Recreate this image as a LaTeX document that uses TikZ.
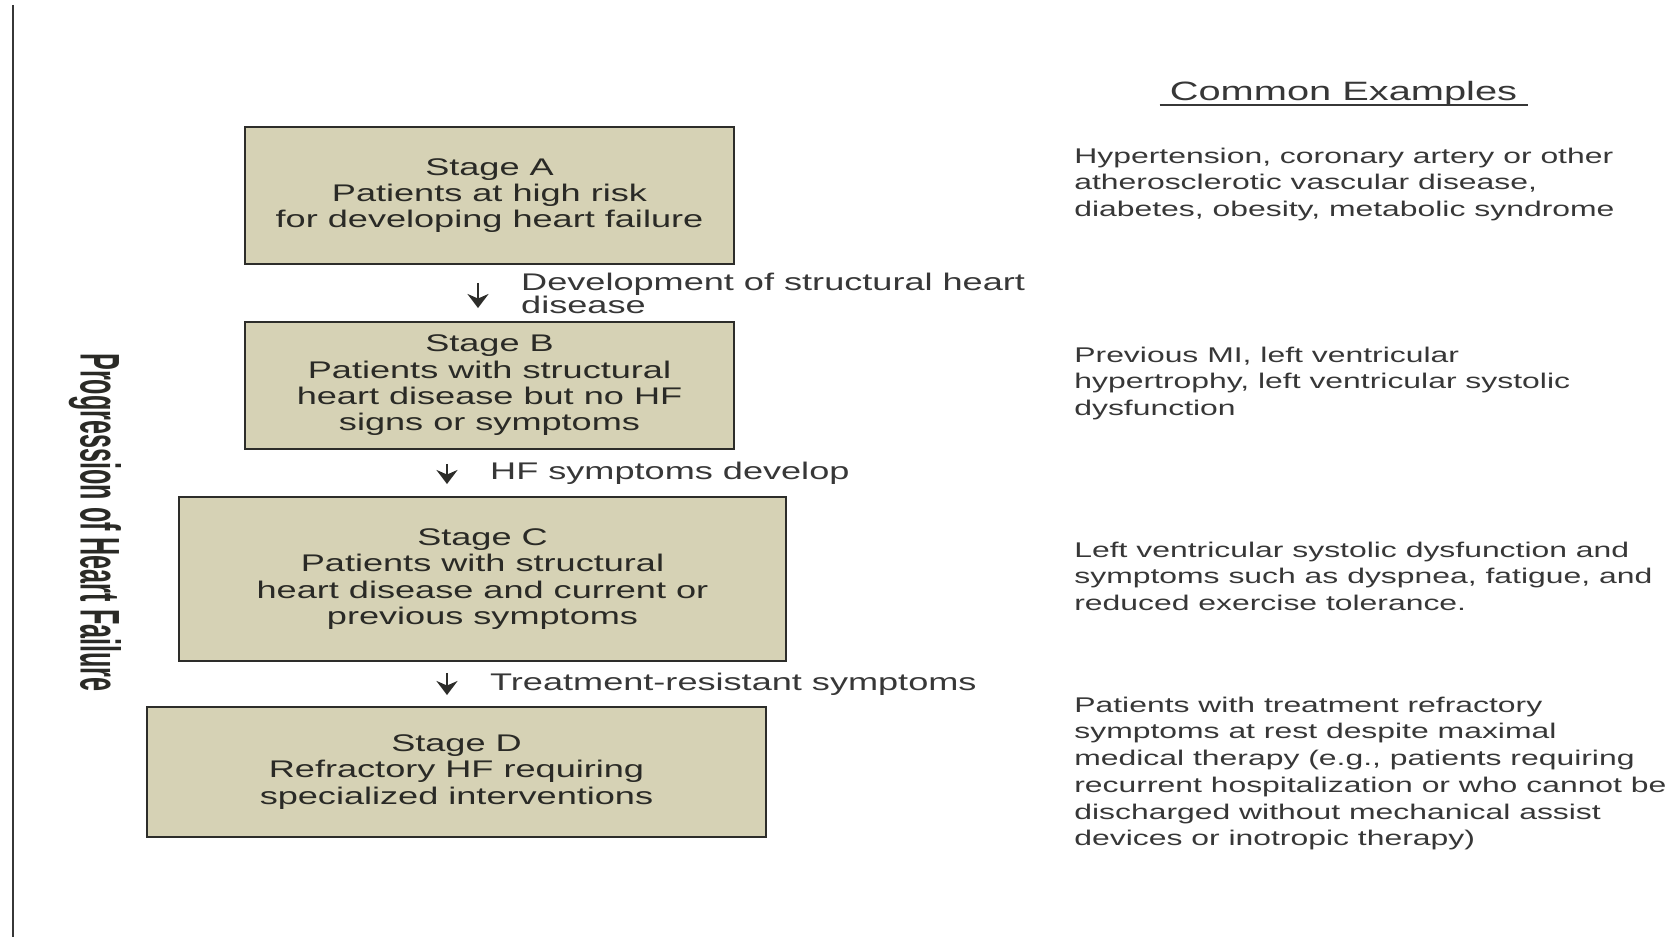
\documentclass[tikz,border=0pt]{standalone}
\usepackage{fontspec}
\usepackage{tikz}
\usetikzlibrary{arrows.meta,positioning,calc}
\newfontfamily\widesans[FakeStretch=1.5]{Liberation Sans}
\newfontfamily\narrowsans[FakeStretch=0.45]{Liberation Sans}
\definecolor{hfbox}{RGB}{214,210,181}
\definecolor{hfline}{RGB}{45,45,42}
\definecolor{hftext}{RGB}{42,42,38}
\definecolor{hfgray}{RGB}{55,55,55}
\tikzset{
  stbox/.style={draw=hfline, fill=hfbox, line width=1.1pt, inner sep=0pt, align=center,
    text=hftext, font=\widesans\fontsize{13.7}{15}\selectfont},
  farr/.style={-{Stealth[length=8pt, width=12pt]}, line width=1.4pt, hfline},
  slab/.style={anchor=west, inner sep=0pt, xshift=0.84cm, align=left, text=hfgray,
    font=\widesans\fontsize{13.7}{13.1}\selectfont},
  extxt/.style={anchor=north west, inner sep=0pt, align=left, text=hfgray,
    font=\widesans\fontsize{12.1}{15.2}\selectfont},
  exhd/.style={anchor=base, inner sep=0pt, text=hfgray, font=\widesans\fontsize{15.1}{18}\selectfont},
  sidelab/.style={rotate=-90, inner sep=0pt, text=hftext,
    font=\narrowsans\bfseries\fontsize{31.8}{34}\selectfont},
}

\begin{document}
\begin{tikzpicture}
\useasboundingbox (0,0) rectangle (33.54,-18.74);
\draw[line width=1.7pt, hfgray] (0.26,-0.1) -- (0.26,-18.74);
\node[sidelab] (prog) at (1.9,-10.45) {Progression of Heart Failure};

\node[stbox, minimum width=9.78cm, minimum height=2.74cm] (stA) at (9.79,-3.91)
  {Stage A\\Patients at high risk\\for developing heart failure};
\node[stbox, minimum width=9.78cm, minimum height=2.54cm] (stB) at (9.79,-7.71)
  {Stage B\\Patients with structural\\heart disease but no HF\\signs or symptoms};
\node[stbox, minimum width=12.14cm, minimum height=3.28cm] (stC) at (9.65,-11.58)
  {Stage C\\Patients with structural\\heart disease and current or\\previous symptoms};
\node[stbox, minimum width=12.38cm, minimum height=2.60cm] (stD) at (9.13,-15.44)
  {Stage D\\Refractory HF requiring\\specialized interventions};

\coordinate (ax1) at (9.56,0);
\coordinate (ax2) at (8.94,0);
\draw[farr, shorten <=0.36cm, shorten >=0.26cm] (stA.south -| ax1) -- (stB.north -| ax1)
  node[midway, slab] {Development of structural heart\\disease};
\draw[farr, shorten <=0.28cm, shorten >=0.24cm] (stB.south -| ax2) -- (stC.north -| ax2)
  node[midway, slab] {HF symptoms develop};
\draw[farr, shorten <=0.22cm, shorten >=0.22cm] (stC.south -| ax2) -- (stD.north -| ax2)
  node[midway, slab] {Treatment-resistant symptoms};

\node[exhd] (exhead) at (26.87,-2.02) {Common Examples};
\draw[line width=0.9pt, hfgray] ([xshift=-0.2cm, yshift=-0.08cm]exhead.base west)
  -- ([xshift=0.2cm, yshift=-0.08cm]exhead.base east);
\node[extxt] (exA) at (21.48,-2.95)
  {Hypertension, coronary artery or other\\atherosclerotic vascular disease,\\diabetes, obesity, metabolic syndrome};
\node[extxt] (exB) at (21.48,-6.93)
  {Previous MI, left ventricular\\hypertrophy, left ventricular systolic\\dysfunction};
\node[extxt] (exC) at (21.48,-10.83)
  {Left ventricular systolic dysfunction and\\symptoms such as dyspnea, fatigue, and\\reduced exercise tolerance.};
\node[extxt] (exD) at (21.48,-13.93)
  {Patients with treatment refractory\\symptoms at rest despite maximal\\medical therapy (e.g., patients requiring\\recurrent hospitalization or who cannot be\\discharged without mechanical assist\\devices or inotropic therapy)};
\end{tikzpicture}
\end{document}
